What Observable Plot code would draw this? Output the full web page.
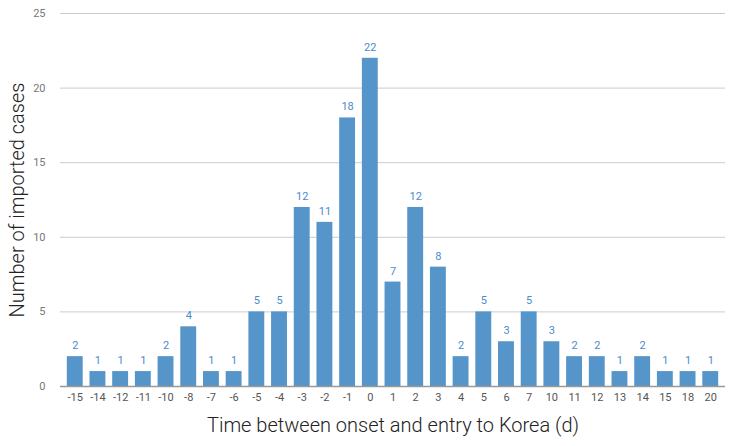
<!DOCTYPE html>
<html>
<head>
<meta charset="utf-8">
<script src="https://cdn.jsdelivr.net/npm/d3@7"></script>
<script src="https://cdn.jsdelivr.net/npm/@observablehq/plot@0.6"></script>
<style>
  html, body { margin: 0; padding: 0; background: #fff; }
  #chart { width: 734px; height: 446px; }
</style>
</head>
<body>
<div id="chart"></div>
<script>
const days = ["-15","-14","-12","-11","-10","-8","-7","-6","-5","-4","-3","-2","-1","0","1","2","3","4","5","6","7","10","11","12","13","14","15","18","20"];
const cases = [2,1,1,1,2,4,1,1,5,5,12,11,18,22,7,12,8,2,5,3,5,3,2,2,1,2,1,1,1];
const yTicks = [0,5,10,15,20,25];

const data = days.map((d, i) => ({day: d, n: cases[i]}));

const chart = Plot.plot({
  width: 734,
  height: 446,
  marginLeft: 60,
  marginRight: 9,
  marginTop: 13,
  marginBottom: 60,
  style: {fontFamily: "Roboto, sans-serif", fontSize: "11px", color: "#666", background: "#fff"},
  x: {domain: days, padding: 0.3, round: false, label: null},
  y: {domain: [0, 25], label: null},
  marks: [
    Plot.ruleY(yTicks, {stroke: "#cccccc", strokeOpacity: 1}),
    Plot.axisY(yTicks, {tickSize: 0, tickPadding: 15, fill: "#777", fontSize: 11}),
    Plot.barY(data, {x: "day", y: "n", fill: "#5595c9"}),
    Plot.ruleY([0], {stroke: "#999", strokeWidth: 1.5}),
    Plot.text(data, {x: "day", y: "n", text: d => String(d.n), dy: -11, fill: "#4a8ccc", fontSize: 11}),
    Plot.axisX({tickSize: 0, tickPadding: 7, fill: "#555", fontSize: 11, label: null}),
    Plot.text(["Time between onset and entry to Korea (d)"], {frameAnchor: "bottom", dy: 45, fontSize: 20, fill: "#222", fontWeight: 300}),
    Plot.text(["Number of imported cases"], {frameAnchor: "left", rotate: -90, textAnchor: "middle", dx: -43, fontSize: 20, fill: "#222", fontWeight: 300})
  ]
});
document.getElementById("chart").appendChild(chart);
</script>
</body>
</html>
